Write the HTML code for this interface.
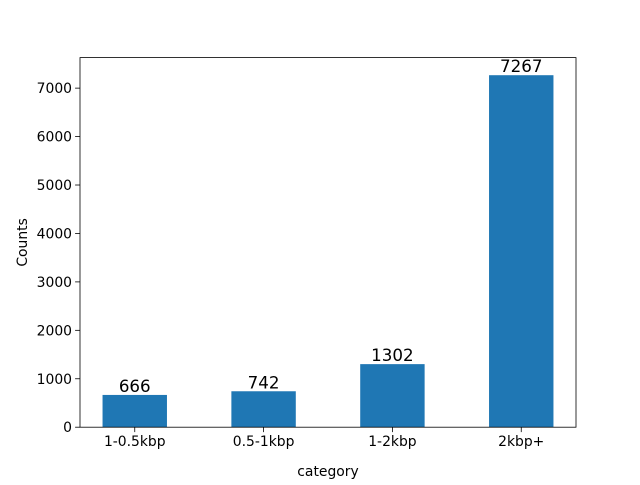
<!DOCTYPE html>
<html><head><meta charset="utf-8"><style>
body{margin:0;background:#fff}
text{font-family:"DejaVu Sans","Liberation Sans",sans-serif;fill:#000}
</style></head><body>
<svg id="chart" width="640" height="480" xmlns="http://www.w3.org/2000/svg"></svg>
<script>
const categories = ["1-0.5kbp","0.5-1kbp","1-2kbp","2kbp+"];
const counts = [666,742,1302,7267];
const yTicks = [0,1000,2000,3000,4000,5000,6000,7000];

const svg = document.getElementById('chart');
const NS = 'http://www.w3.org/2000/svg';
const L=80,R=576,T=57.6,B=427.2;
const n=categories.length, bw=0.5;
const xmin=-bw/2-0.05*(n-1+bw), xmax=n-1+bw/2+0.05*(n-1+bw);
const ymax=Math.max(...counts)*1.05;
const xs=v=>L+(v-xmin)/(xmax-xmin)*(R-L);
const ys=v=>B-v/ymax*(B-T);
function mk(tag,attrs,txt){const e=document.createElementNS(NS,tag);for(const k in attrs)e.setAttribute(k,attrs[k]);if(txt!==undefined)e.textContent=txt;svg.appendChild(e);return e;}

counts.forEach((c,i)=>{
  const r=mk('rect',{x:xs(i-bw/2),y:ys(c),width:xs(i+bw/2)-xs(i-bw/2),height:B-ys(c),fill:'#1f77b4'});
  
  
  const t=mk('text',{x:xs(i),y:ys(c)-3,'text-anchor':'middle','font-size':'16.7'},String(c));
  
  
  mk('line',{x1:xs(i),x2:xs(i),y1:B,y2:B+4.9,stroke:'#000','stroke-width':0.8});
  const tl=mk('text',{x:xs(i),y:B+19,'text-anchor':'middle','font-size':'13.9'},categories[i]);
  
  
});
yTicks.forEach(v=>{
  mk('line',{x1:L-4.9,x2:L,y1:ys(v),y2:ys(v),stroke:'#000','stroke-width':0.8});
  const tl=mk('text',{x:L-8,y:ys(v)+5,'text-anchor':'end','font-size':'13.9'},String(v));
  
  
});
const fr=mk('rect',{x:L,y:T,width:R-L,height:B-T,fill:'none',stroke:'#000','stroke-width':0.8});


const xl=mk('text',{x:(L+R)/2,y:476,'text-anchor':'middle','font-size':'13.9'},'category');


const yl=mk('text',{x:27,y:(T+B)/2,'text-anchor':'middle','font-size':'13.9',transform:'rotate(-90 27 '+((T+B)/2)+')'},'Counts');


</script>
</body></html>
